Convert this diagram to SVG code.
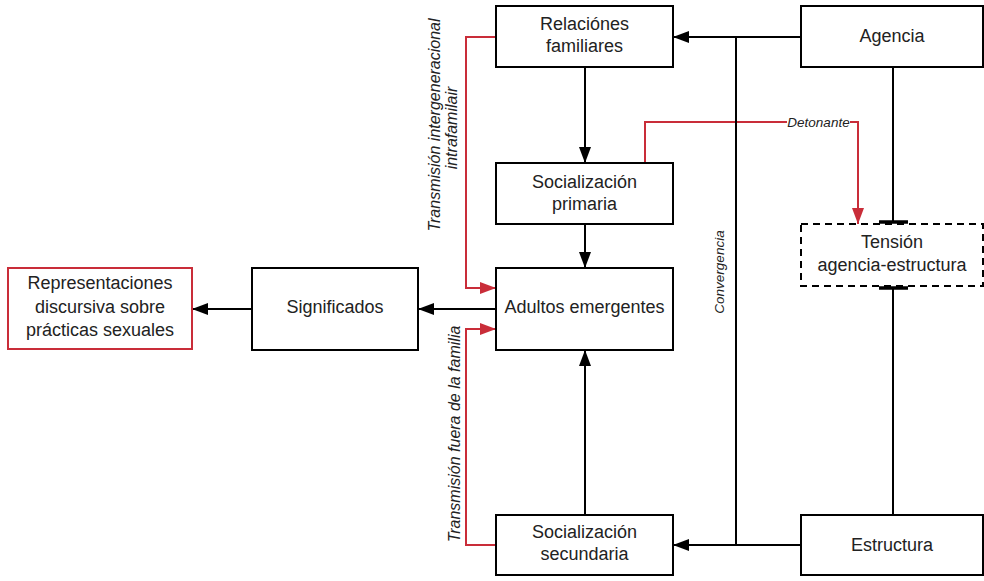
<svg xmlns="http://www.w3.org/2000/svg" width="984" height="581" viewBox="0 0 984 581">
<style>
.box{fill:#fff;stroke:#000;stroke-width:2}
.red{fill:#fff;stroke:#c92d39;stroke-width:2}
.dash{fill:#fff;stroke:#000;stroke-width:2;stroke-dasharray:7,5}
.t{font-family:"Liberation Sans",Arial,sans-serif;font-size:18px;fill:#222;text-anchor:middle}
.lab{font-family:"Liberation Sans",Arial,sans-serif;font-style:italic;fill:#222;text-anchor:middle}
.ln{fill:none;stroke:#000;stroke-width:2}
.rl{fill:none;stroke:#c92d39;stroke-width:2}
</style>
<defs>
<marker id="ab" markerUnits="userSpaceOnUse" markerWidth="16" markerHeight="12" refX="16" refY="6" orient="auto"><path d="M0,0 L16,6 L0,12 z" fill="#000"/></marker>
<marker id="ar" markerUnits="userSpaceOnUse" markerWidth="16" markerHeight="12" refX="16" refY="6" orient="auto"><path d="M0,0 L16,6 L0,12 z" fill="#c92d39"/></marker>
</defs>
<rect width="984" height="581" fill="#fff"/>
<g id="connectors">
<path class="rl" d="M645,163 V122 H787"/>
<path class="rl" d="M850,122 H858 V224" marker-end="url(#ar)"/>
<path class="rl" d="M496,37 H466 V288 H496" marker-end="url(#ar)"/>
<path class="rl" d="M496,545 H466 V329 H496" marker-end="url(#ar)"/>
<path class="ln" d="M585,67 V163" marker-end="url(#ab)"/>
<path class="ln" d="M585,224 V268" marker-end="url(#ab)"/>
<path class="ln" d="M585,515 V350" marker-end="url(#ab)"/>
<path class="ln" d="M496,309 H418" marker-end="url(#ab)"/>
<path class="ln" d="M252,309 H192" marker-end="url(#ab)"/>
<path class="ln" d="M801,37 H673" marker-end="url(#ab)"/>
<path class="ln" d="M801,545 H673" marker-end="url(#ab)"/>
<path class="ln" d="M736,37 V545"/>
<path class="ln" d="M893,67 V223"/>
<path class="ln" d="M893,515 V287"/>
<path d="M879,222 H908 M879,288 H908" stroke="#000" stroke-width="3.5" fill="none"/>
<text class="lab" font-size="13.5" x="818.5" y="126.5">Detonante</text>
<text class="lab" font-size="13.5" transform="translate(724,272) rotate(-90)">Convergencia</text>
<text class="lab" font-size="16" transform="translate(440,125) rotate(-90)">Transmisión intergeneracional</text>
<text class="lab" font-size="16" transform="translate(457,128) rotate(-90)">intrafamilair</text>
<text class="lab" font-size="16" transform="translate(460,434) rotate(-90)">Transmisión fuera de la familia</text>
</g>
<g id="relaciones"><rect class="box" x="496" y="6" width="177" height="61"/><text class="t" x="584.5" y="30">Relaciónes</text><text class="t" x="584.5" y="52">familiares</text></g>
<g id="primaria"><rect class="box" x="496" y="163" width="177" height="61"/><text class="t" x="584.5" y="188">Socialización</text><text class="t" x="584.5" y="210">primaria</text></g>
<g id="adultos"><rect class="box" x="496" y="268" width="177" height="82"/><text class="t" x="584.5" y="313">Adultos emergentes</text></g>
<g id="secundaria"><rect class="box" x="496" y="515" width="177" height="60"/><text class="t" x="584.5" y="538">Socialización</text><text class="t" x="584.5" y="560">secundaria</text></g>
<g id="agencia"><rect class="box" x="801" y="6" width="182" height="61"/><text class="t" x="892" y="42">Agencia</text></g>
<g id="tension"><rect class="dash" x="801" y="224" width="182" height="62"/><text class="t" x="892" y="248">Tensión</text><text class="t" x="892" y="271">agencia-estructura</text></g>
<g id="estructura"><rect class="box" x="801" y="515" width="182" height="60"/><text class="t" x="892" y="551">Estructura</text></g>
<g id="significados"><rect class="box" x="252" y="268" width="166" height="82"/><text class="t" x="335" y="313">Significados</text></g>
<g id="representaciones"><rect class="red" x="8" y="268" width="184" height="81"/><text class="t" x="100" y="289">Representaciones</text><text class="t" x="100" y="313">discursiva sobre</text><text class="t" x="100" y="336">prácticas sexuales</text></g>
</svg>
